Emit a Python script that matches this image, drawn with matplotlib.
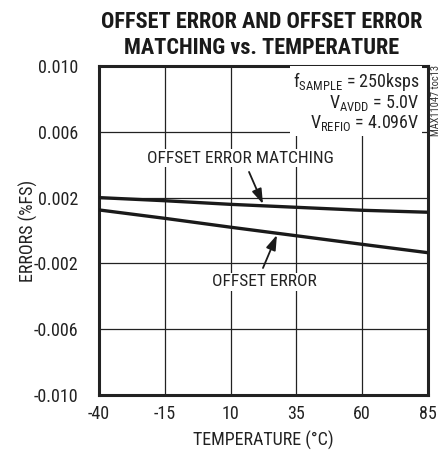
import matplotlib
matplotlib.use("Agg")
import matplotlib.pyplot as plt
from matplotlib import font_manager

temps = [-40, -15, 10, 35, 60, 85]
offset_error_matching = [0.00200, 0.00181, 0.00159, 0.00141, 0.00123, 0.00111]
offset_error = [0.00125, 0.00074, 0.00020, -0.00032, -0.00084, -0.00135]
xticks = [-40, -15, 10, 35, 60, 85]
yticks = [0.010, 0.006, 0.002, -0.002, -0.006, -0.010]
ytick_labels = ["0.010", "0.006", "0.002", "-0.002", "-0.006", "-0.010"]

names = {f.name for f in font_manager.fontManager.ttflist}
def pick(cands):
    for c in cands:
        if c in names:
            return c
    return 'Liberation Sans'
body = pick(['Roboto Condensed', 'Archivo Narrow', 'Liberation Sans Narrow', 'Asap Condensed'])
head = pick(['Roboto Condensed', 'Barlow Condensed', 'Asap Condensed', 'Liberation Sans Narrow'])

plt.rcParams['font.family'] = [body, 'DejaVu Sans']
plt.rcParams['mathtext.fontset'] = 'custom'
plt.rcParams['mathtext.rm'] = body
plt.rcParams['axes.unicode_minus'] = False

fig = plt.figure(figsize=(4.46, 4.59), dpi=100)
ax = fig.add_axes([99/446, 1-395/459, 329/446, 329/459])
ax.set_xlim(-40, 85)
ax.set_ylim(-0.010, 0.010)
ax.set_xticks(xticks)
ax.set_yticks(yticks)
ax.set_yticklabels(ytick_labels)
ax.tick_params(length=0, labelsize=13, colors='#222222')
ax.tick_params(axis='y', pad=15)
ax.tick_params(axis='x', pad=7)
ax.grid(True, color='#222222', linewidth=0.9)
ax.set_axisbelow(True)
for s in ax.spines.values():
    s.set_linewidth(2.2)
    s.set_color('#222222')

ax.plot(temps, offset_error_matching, color='#1a1a1a', linewidth=2.4, zorder=3)
ax.plot(temps, offset_error, color='#1a1a1a', linewidth=2.4, zorder=3)

ax.set_xlabel("TEMPERATURE (°C)", fontsize=13, color='#222222', labelpad=6)
ax.set_ylabel("ERRORS (%FS)", fontsize=13, color='#222222', labelpad=-3)

fig.text(262/446, 1-22/459, "OFFSET ERROR AND OFFSET ERROR", ha='center', va='center',
         fontsize=16, fontweight='bold', color='#1a1a1a', family=[head, 'DejaVu Sans'])
fig.text(262/446, 1-48/459, "MATCHING vs. TEMPERATURE", ha='center', va='center',
         fontsize=16, fontweight='bold', color='#1a1a1a', family=[head, 'DejaVu Sans'])

bbox = dict(facecolor='white', edgecolor='none', pad=1)
ax.text(13.6, 0.00440, "OFFSET ERROR MATCHING", ha='center', va='center', fontsize=12.5,
        color='#222222', bbox=bbox, zorder=4)
ax.text(22.7, -0.00313, "OFFSET ERROR", ha='center', va='center', fontsize=12.5,
        color='#222222', bbox=bbox, zorder=4)
arrow = dict(arrowstyle='-|>,head_length=0.9,head_width=0.3', color='#1a1a1a',
             lw=1.3, shrinkA=0, shrinkB=0)
ax.annotate("", xy=(22.3, 0.00161), xytext=(17.0, 0.00356), arrowprops=arrow, zorder=4)
ax.annotate("", xy=(27.6, -0.00027), xytext=(22.3, -0.00228), arrowprops=arrow, zorder=4)

ax.text(81.8, 0.00975, "f$_{\\mathregular{SAMPLE}}$ = 250ksps\nV$_{\\mathregular{AVDD}}$ = 5.0V\nV$_{\\mathregular{REFIO}}$ = 4.096V",
        ha='right', va='top', fontsize=13, color='#222222', linespacing=1.0,
        bbox=dict(facecolor='white', edgecolor='none', pad=2), zorder=4)

fig.text(436/446, 1-100/459, "MAX11047 toc13", rotation=90, ha='center', va='center',
         fontsize=7.5, color='#333333')

fig.savefig("out.png", dpi=100)
